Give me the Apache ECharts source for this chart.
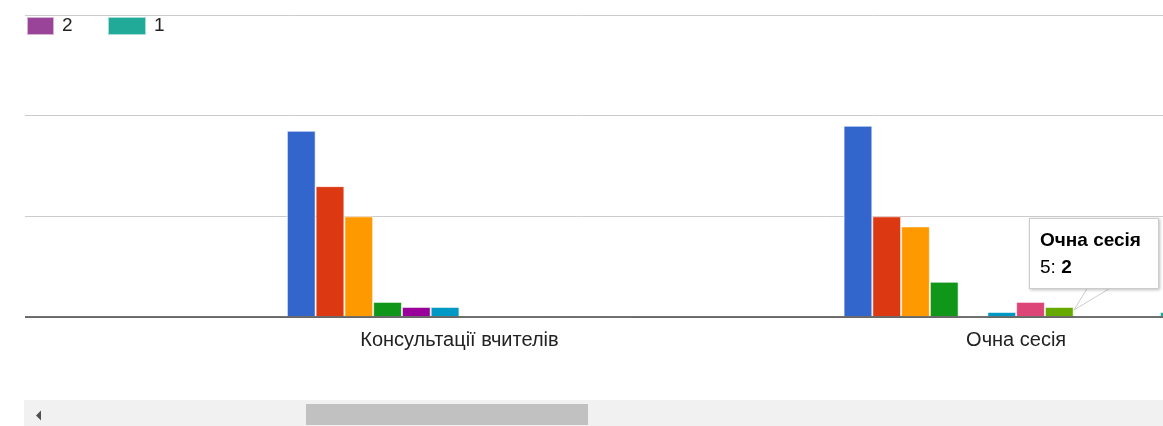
<!DOCTYPE html>
<html>
<head>
<meta charset="utf-8">
<script src="https://cdn.jsdelivr.net/npm/echarts@6/dist/echarts.min.js"></script>
<style>
  html, body { margin: 0; padding: 0; background: #fff; }
  #chart { width: 1163px; height: 426px; }
</style>
</head>
<body>
<div id="chart"></div>
<script>
// categories (the first one is scrolled off to the left, its label is not visible)
const categories = ['', 'Консультації вчителів', 'Очна сесія'];
// series names, one per rating
const seriesNames = ['12', '11', '10', '9', '8', '7', '6', '5', '4', '3', '2', '1'];
// values per category, in series order
const hiddenLeft = [null, null, null, null, null, null, null, null, null, null, null, null];
const consult = [37, 26, 20, 3, 2, 2, 0, 0, 0, 0, 0, 0];
const ochna = [38, 20, 18, 7, 0, 1, 3, 2, 0, 0, 0, 1];
// y axis ticks
const yMin = 0, yMax = 60, yStep = 20;

const colors = ['#3366cc', '#dc3912', '#ff9900', '#109618', '#990099', '#0099c6',
  '#dd4477', '#66aa00', '#b82e2e', '#316395', '#994499', '#22aa99'];

const font = 'Arial, "Liberation Sans", sans-serif';

let myChart = echarts.init(document.getElementById('chart'));

let series = seriesNames.map(function (name, i) {
  return {
    name: name,
    type: 'bar',
    barGap: '0%',
    barCategoryGap: '38%',
    itemStyle: { color: colors[i], borderColor: 'rgba(255,255,255,0.6)', borderWidth: 1 },
    emphasis: { disabled: true },
    data: [hiddenLeft[i], consult[i], ochna[i]]
  };
});

myChart.setOption({
  animation: false,
  color: colors,
  grid: {
    left: -375.6,
    right: -131.5,
    top: 15,
    bottom: 109,
    containLabel: false,
    outerBoundsMode: 'none'
  },
  legend: [
    {
      data: ['2'],
      left: 26,
      top: 16,
      padding: 0,
      icon: 'rect',
      itemWidth: 27,
      itemHeight: 18,
      selectedMode: false,
      textStyle: { fontSize: 19, color: '#222', fontFamily: font, padding: [0, 0, 0, 3] }
    },
    {
      data: ['1'],
      left: 107,
      top: 16,
      padding: 0,
      icon: 'rect',
      itemWidth: 38,
      itemHeight: 18,
      selectedMode: false,
      textStyle: { fontSize: 19, color: '#222', fontFamily: font, padding: [0, 0, 0, 3] }
    }
  ],
  tooltip: {
    trigger: 'item',
    triggerOn: 'none',
    alwaysShowContent: true,
    transitionDuration: 0,
    position: [1029, 218],
    backgroundColor: '#fff',
    borderColor: '#ccc',
    borderWidth: 1,
    borderRadius: 0,
    padding: [7, 10, 8, 10],
    textStyle: { fontSize: 19, color: '#000', fontFamily: font },
    extraCssText: 'box-shadow: 1px 1px 3px rgba(0,0,0,0.25); width: 108px; line-height: 27px;',
    formatter: function (p) {
      return '<b>' + p.name + '</b><br/>' + p.seriesName + ': <b>' + p.value + '</b>';
    }
  },
  xAxis: {
    type: 'category',
    data: categories,
    z: 5,
    axisTick: { show: false },
    axisLine: { lineStyle: { color: '#444', width: 1.5 } },
    axisLabel: { color: '#222', fontSize: 20, fontFamily: font, margin: 13, interval: 0 },
    splitLine: { show: false }
  },
  yAxis: {
    type: 'value',
    min: yMin,
    max: yMax,
    interval: yStep,
    axisLabel: { show: false },
    axisLine: { show: false },
    axisTick: { show: false },
    splitLine: { lineStyle: { color: '#cccccc', width: 1 } }
  },
  graphic: [
    // white strip left of the visible plot
    { type: 'rect', z: 100, shape: { x: 0, y: 0, width: 25, height: 400 }, style: { fill: '#fff' } },
    // tooltip tail
    { type: 'polygon', z: 100, shape: { points: [[1088, 287], [1112, 287], [1074, 310]] },
      style: { fill: '#fff', stroke: '#cccccc', lineWidth: 1 } },
    // scrollbar
    { type: 'rect', z: 100, shape: { x: 24, y: 400, width: 1139, height: 26 }, style: { fill: '#f1f1f1' } },
    { type: 'rect', z: 101, shape: { x: 306, y: 404, width: 282, height: 21 }, style: { fill: '#c1c1c1' } },
    { type: 'polygon', z: 101, shape: { points: [[36, 415.5], [41, 410.5], [41, 420.5]] }, style: { fill: '#505050' } }
  ],
  series: series
});

myChart.dispatchAction({ type: 'showTip', seriesIndex: 7, dataIndex: 2 });
</script>
</body>
</html>
